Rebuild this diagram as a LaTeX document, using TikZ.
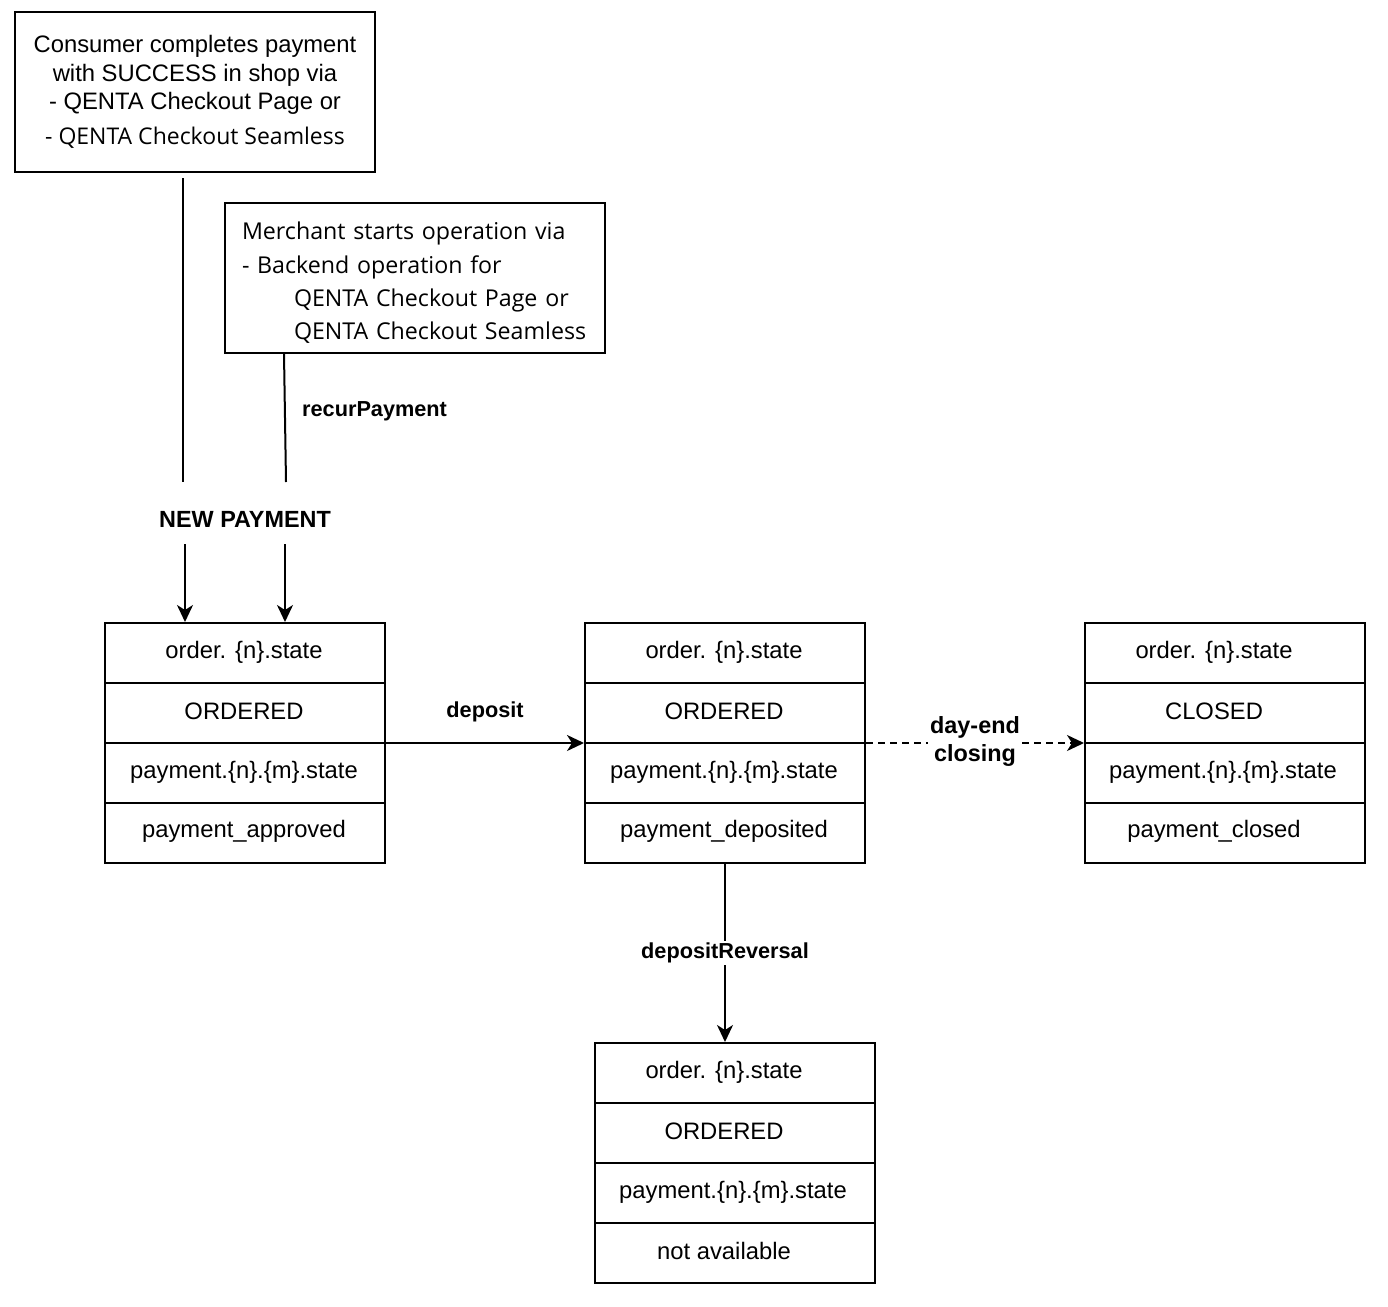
\documentclass[tikz,border=0pt]{standalone}
\usepackage{fontspec}
\setmainfont{Liberation Sans}
\newfontfamily\qfont{Open Sans}
\usetikzlibrary{positioning}
\usetikzlibrary{calc}
\usetikzlibrary{arrows.meta}
\tikzset{every picture/.style={line width=2pt,x=1pt,y=-1pt},
statebox/.style={draw,minimum width=280pt,minimum height=240pt,inner sep=0pt},
celltext/.style={font=\fontsize{23.8}{28}\selectfont,inner sep=0pt},
lbl/.style={font=\bfseries\fontsize{21.7}{26}\selectfont},
arr/.style={-{Stealth[length=17pt,width=16pt,inset=5pt]}}}

\begin{document}
\begin{tikzpicture}
\useasboundingbox (0,0) rectangle (1388,1306);
\node (consumer) at (195,92) [draw,minimum width=360pt,minimum height=160pt,align=center,font=\fontsize{23.8}{28.5}\selectfont] {Consumer completes payment\\with SUCCESS in shop via\\- QENTA Checkout Page or\\[6pt]{\qfont\fontsize{23}{28}\selectfont - QENTA Checkout Seamless}};
\node (merchant) at (415,278) [draw,minimum width=380pt,minimum height=150pt] {};
\node (merchant-text) at ($(merchant)+(0,5)$) [text width=346pt,align=left,inner sep=0pt,font=\qfont\fontsize{23.2}{33.3}\selectfont] {Merchant starts operation via\\- Backend operation for\\\hspace*{52pt}QENTA Checkout Page or\\\hspace*{52pt}QENTA Checkout Seamless};
\node (np) at (245,519) [minimum height=48pt,font=\bfseries\fontsize{23.4}{28}\selectfont] {NEW PAYMENT};

\foreach \n/\cx/\cy in {t1/245/743, t2/725/743, t3/1225/743, t4/735/1163} {
\node (\n) at (\cx,\cy) [statebox] {};
\draw (\n.west) -- (\n.east);
\draw ($(\n.west)+(0,-60)$) -- ($(\n.east)+(0,-60)$);
\draw ($(\n.west)+(0,60)$) -- ($(\n.east)+(0,60)$);
}
\foreach \n/\dx/\dz/\ord/\pay in {t1/-1/-1/ORDERED/payment\_approved, t2/-1/-1/ORDERED/payment\_deposited, t3/-11/-2/CLOSED/payment\_closed, t4/-11/-2/ORDERED/not available} {
\node (\n-1) at ($(\n)+(\dx,-91)$) [celltext] {order. \{n\}.state};
\node (\n-2) at ($(\n)+(\dx,-32)$) [celltext] {\ord};
\node (\n-3) at ($(\n)+(\dz,29)$) [celltext] {payment.\{n\}.\{m\}.state};
\node (\n-4) at ($(\n)+(\dx,88)$) [celltext] {\pay};
}

\coordinate (ca) at ($(consumer.south)+(-12,5)$);
\coordinate (mb) at ($(merchant.south)+(-131,0)$);
\draw (ca) -- ($(np.north -| ca)+(0,-12)$);
\draw (mb) -- node[lbl,right=13pt,pos=0.45] (recur) {recurPayment} ($(np.north)+(41,-12)$);
\draw[arr] ($(np.south)+(-60,0)$) -- ($(t1.north)+(-60,0)$);
\draw[arr] ($(np.south)+(40,0)$) -- ($(t1.north)+(40,0)$);

\draw[arr] (t1.east) -- node[lbl,above=17pt] (dep) {deposit} (t2.west);
\draw[arr,dash pattern=on 7pt off 5pt] (t2.east) -- node[lbl,fill=white,align=center,inner sep=2pt,font=\bfseries\fontsize{23.4}{28}\selectfont,yshift=2pt] (dayend) {day-end\\closing} (t3.west);
\draw[arr] (t2.south) -- node[lbl,fill=white,inner sep=2pt] (rev) {depositReversal} (t2.south |- t4.north);
\end{tikzpicture}
\end{document}
